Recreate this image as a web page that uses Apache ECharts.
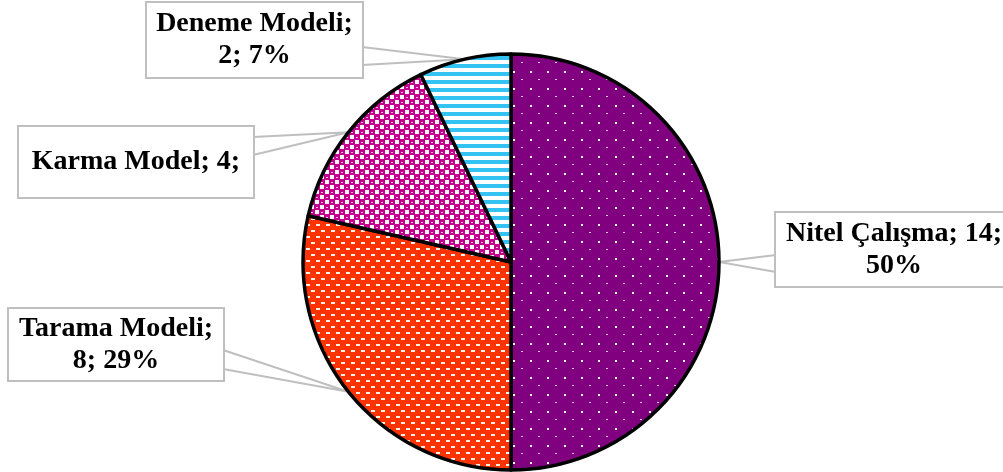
<!DOCTYPE html>
<html>
<head>
<meta charset="utf-8">
<script src="https://cdn.jsdelivr.net/npm/echarts@6/dist/echarts.min.js"></script>
<style>
  html, body { margin: 0; padding: 0; background: #fff; }
  #chart { width: 1003px; height: 472px; }
</style>
</head>
<body>
<div id="chart"></div>
<script>
// data
const categories = ['Nitel Çalışma', 'Tarama Modeli', 'Karma Model', 'Deneme Modeli'];
const counts = [14, 8, 4, 2];
// how each label is broken (as in the source picture)
const labelFormats = ['{b}; {c};\n{d}%', '{b};\n{c}; {d}%', '{b}; {c};', '{b};\n{c}; {d}%'];

// callout boxes: [left, top, width, height], wedge side and base [y1, y2]
const callouts = [
    { box: [776, 213, 236, 73], side: 'left', base: [255, 272] },
    { box: [9, 309, 214, 71], side: 'right', base: [350, 369] },
    { box: [19, 127, 234, 70], side: 'right', base: [137, 155] },
    { box: [147, 3, 215, 74], side: 'right', base: [47, 65] }
];

function tile(w, h, paint) {
    const c = document.createElement('canvas');
    c.width = w; c.height = h;
    paint(c.getContext('2d'));
    return c;
}

const patterns = [
    // purple with white dots
    tile(17, 17, ctx => {
        ctx.fillStyle = '#800080'; ctx.fillRect(0, 0, 17, 17);
        ctx.fillStyle = '#ffffff'; ctx.fillRect(3, 3, 2, 2);
        ctx.fillStyle = '#e8cce8'; ctx.fillRect(11, 11, 2, 1);
    }),
    // orange-red with white dashes
    tile(10, 12, ctx => {
        ctx.fillStyle = '#ff3300'; ctx.fillRect(0, 0, 10, 12);
        ctx.fillStyle = '#fff0ea';
        ctx.fillRect(1, 2, 4, 2);
        ctx.fillRect(6, 8, 4, 2);
    }),
    // magenta checker
    tile(10, 10, ctx => {
        ctx.fillStyle = '#c4008f'; ctx.fillRect(0, 0, 10, 10);
        ctx.fillStyle = '#ffffff';
        ctx.fillRect(5, 0, 4, 4);
        ctx.fillRect(0, 5, 4, 4);
        ctx.fillStyle = '#f0c0e4';
        ctx.fillRect(1, 2, 2, 1);
        ctx.fillRect(6, 7, 2, 1);
    }),
    // cyan horizontal stripes
    tile(8, 8, ctx => {
        ctx.fillStyle = '#ffffff'; ctx.fillRect(0, 0, 8, 8);
        ctx.fillStyle = '#33c4f4'; ctx.fillRect(0, 0, 8, 4);
    })
];

const chart = echarts.init(document.getElementById('chart'));

const pieData = categories.map((name, i) => {
    const c = callouts[i];
    const lines = labelFormats[i].split('\n').length;
    const padY = (c.box[3] - lines * 32) / 2;
    return {
        name: name,
        value: counts[i],
        itemStyle: { color: { image: patterns[i], repeat: 'repeat' } },
        label: {
            formatter: labelFormats[i],
            width: c.box[2] - 8,
            padding: [padY, 4, padY, 4]
        }
    };
});

chart.setOption({
    animation: false,
    backgroundColor: '#ffffff',
    series: [
        {
            type: 'pie',
            center: [511, 262],
            radius: 208,
            startAngle: 90,
            clockwise: true,
            avoidLabelOverlap: false,
            percentPrecision: 0,
            data: pieData,
            itemStyle: {
                borderColor: '#000000',
                borderWidth: 3.5
            },
            emphasis: { disabled: true },
            label: {
                show: true,
                position: 'outside',
                fontFamily: '"Liberation Serif", "Times New Roman", serif',
                fontWeight: 'bold',
                fontSize: 28,
                lineHeight: 32,
                color: '#000000',
                align: 'center',
                backgroundColor: '#ffffff',
                borderColor: '#bfbfbf',
                borderWidth: 2
            },
            labelLine: {
                show: true,
                lineStyle: { color: '#bfbfbf', width: 2 }
            },
            labelLayout: function (params) {
                const c = callouts[params.dataIndex];
                const tip = params.labelLinePoints ? params.labelLinePoints[0] : [0, 0];
                const bx = c.side === 'left' ? c.box[0] : c.box[0] + c.box[2];
                return {
                    x: c.box[0] + c.box[2] / 2,
                    y: c.box[1] + c.box[3] / 2,
                    align: 'center',
                    verticalAlign: 'middle',
                    labelLinePoints: [[bx, c.base[0]], tip, [bx, c.base[1]]]
                };
            }
        }
    ]
});
</script>
</body>
</html>
